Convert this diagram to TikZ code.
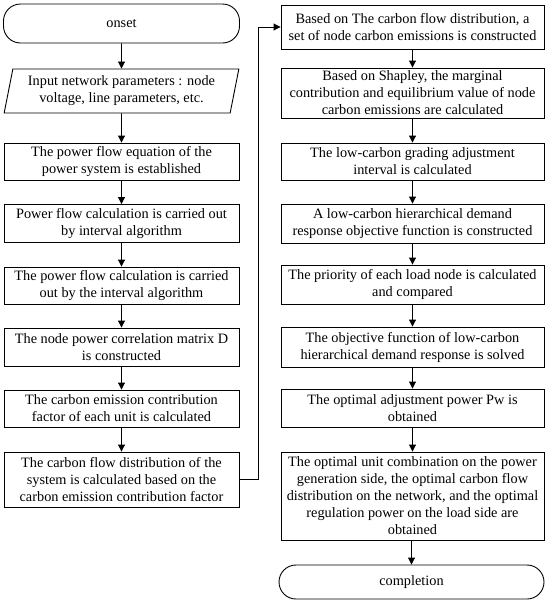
\documentclass[tikz,border=0pt]{standalone}
\usepackage{fontspec}
\setmainfont{Liberation Serif}
\usetikzlibrary{shapes.geometric,arrows.meta}
\begin{document}
\begin{tikzpicture}[x=1pt,y=-1pt,
  every node/.style={font=\fontsize{14.3}{17}\selectfont, align=center, inner sep=0pt},
  lbox/.style={draw, line width=0.9pt, minimum width=235pt, minimum height=38pt},
  rbox/.style={draw, line width=0.9pt, minimum width=263pt, minimum height=38pt},
  term/.style={draw, line width=0.9pt, rounded corners=17pt},
  conn/.style={line width=0.9pt, -{Triangle[width=7pt,length=7pt]}}]
\useasboundingbox (0,0) rectangle (550,614);
% left column
\node[term, minimum width=236pt, minimum height=39pt] (n1) at (121.5,23.5) {onset};
\node[draw, line width=0.9pt, trapezium, trapezium left angle=76, trapezium right angle=104,
  trapezium stretches=true, minimum width=235pt, minimum height=44pt] (n2) at (121.5,91)
  {Input network parameters : node\\voltage, line parameters, etc.};
\node[lbox, minimum height=37pt] (n3) at (121.5,161.5) {The power flow equation of the\\power system is established};
\node[lbox] (n4) at (121.5,223.5) {Power flow calculation is carried out\\by interval algorithm};
\node[lbox, minimum height=37pt] (n5) at (121.5,285.5) {The power flow calculation is carried\\out by the interval algorithm};
\node[lbox] (n6) at (121.5,347) {The node power correlation matrix D\\is constructed};
\node[lbox, minimum height=37pt] (n7) at (121.5,408.5) {The carbon emission contribution\\factor of each unit is calculated};
\node[lbox, minimum height=55pt] (n8) at (121.5,479.5) {The carbon flow distribution of the\\system is calculated based on the\\carbon emission contribution factor};
% right column
\node[rbox, minimum height=44pt] (r1) at (412.5,27) {Based on The carbon flow distribution, a\\set of node carbon emissions is constructed};
\node[rbox, minimum height=50pt] (r2) at (412.5,93) {Based on Shapley, the marginal\\contribution and equilibrium value of node\\carbon emissions are calculated};
\node[rbox, minimum height=37pt] (r3) at (412.5,161.5) {The low-carbon grading adjustment\\interval is calculated};
\node[rbox, minimum height=39pt] (r4) at (412.5,223.5) {A low-carbon hierarchical demand\\response objective function is constructed};
\node[rbox, minimum height=39pt] (r5) at (412.5,284.5) {The priority of each load node is calculated\\and compared};
\node[rbox, minimum height=40pt] (r6) at (412.5,347) {The objective function of low-carbon\\hierarchical demand response is solved};
\node[rbox, minimum height=38pt] (r7) at (412.5,408) {The optimal adjustment power Pw is\\obtained};
\node[rbox, minimum height=88pt] (r8) at (412.5,496) {The optimal unit combination on the power\\generation side, the optimal carbon flow\\distribution on the network, and the optimal\\regulation power on the load side are\\obtained};
\node[term, minimum width=265pt, minimum height=34pt] (r9) at (411.5,582) {completion};
% connectors
\draw[conn] (n1) -- (n2);
\draw[conn] (n2) -- (n3);
\draw[conn] (n3) -- (n4);
\draw[conn] (n4) -- (n5);
\draw[conn] (n5) -- (n6);
\draw[conn] (n6) -- (n7);
\draw[conn] (n7) -- (n8);
\coordinate (c1) at (258,479.5);
\coordinate (c2) at (258,27);
\draw[conn] (n8.east) -- (c1) -- (c2) -- (r1.west);
\draw[conn] (r1) -- (r2);
\draw[conn] (r2) -- (r3);
\draw[conn] (r3) -- (r4);
\draw[conn] (r4) -- (r5);
\draw[conn] (r5) -- (r6);
\draw[conn] (r6) -- (r7);
\draw[conn] (r7) -- (r8);
\draw[conn] (r8.south -| r9.north) -- (r9.north);
\end{tikzpicture}
\end{document}
